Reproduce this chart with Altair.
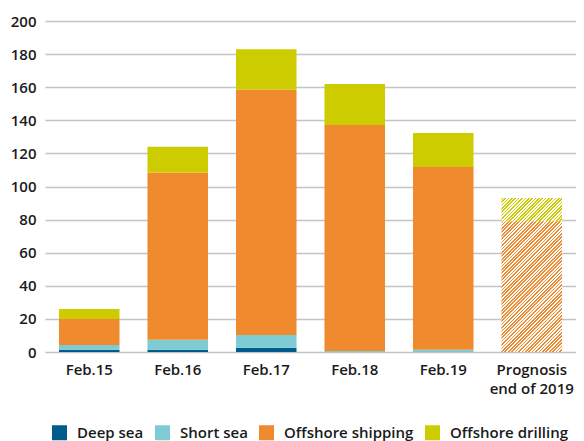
import altair as alt
import pandas as pd

periods = ["Feb.15", "Feb.16", "Feb.17", "Feb.18", "Feb.19", "Prognosis\nend of 2019"]
series = ["Deep sea", "Short sea", "Offshore shipping", "Offshore drilling"]
colors = ["#005C8A", "#7FCBD3", "#F08A2F", "#CDCC00"]

deep_sea = [1.4, 1.4, 2.6, 0.0, 0.0, 0.0]
short_sea = [2.8, 6.0, 7.7, 0.6, 1.4, 0.0]
offshore_shipping = [15.8, 101.0, 148.2, 136.6, 110.4, 79.0]
offshore_drilling = [6.0, 15.6, 24.5, 24.8, 20.5, 14.0]

y_ticks = list(range(0, 201, 20))

PROG = periods[-1]

rows = []
for i, p in enumerate(periods):
    for j, (s, vals) in enumerate(zip(series, [deep_sea, short_sea, offshore_shipping, offshore_drilling])):
        rows.append({"period": p, "series": s, "order": j, "value": vals[i]})
df = pd.DataFrame(rows)

W, H = 531, 331
FONT = "Open Sans"


def stripes(color, w, h, period=3.4):
    n = max(1, int(round((w + h) / period)))
    s = (w + h) / (w * w + h * h)
    stops = []
    for i in range(n):
        a, m, b = i / n, (i + 0.5) / n, (i + 1) / n
        stops += [
            alt.GradientStop(offset=a, color=color),
            alt.GradientStop(offset=m, color=color),
            alt.GradientStop(offset=m, color="#ffffff"),
            alt.GradientStop(offset=b, color="#ffffff"),
        ]
    return alt.LinearGradient(gradient="linear", x1=0, y1=0, x2=s * w, y2=s * h, stops=stops)


bar_w = W / len(periods) * 0.684
px_per_unit = H / 200

x_enc = alt.X(
    "period:N",
    sort=periods,
    title=None,
    scale=alt.Scale(domain=periods, paddingInner=0.316, paddingOuter=0.158),
    axis=alt.Axis(
        labelAngle=0,
        labelExpr="split(datum.label, '\\n')",
        labelLineHeight=19,
        labelPadding=10,
        labelBaseline="top",
        labelFont=FONT,
        labelFontSize=15,
        labelFontWeight=600,
        labelColor="#1a1a1a",
        domain=False,
        ticks=False,
        grid=False,
    ),
)
y_scale = alt.Scale(domain=[0, 200], nice=False)
y_enc = alt.Y(
    "y0:Q",
    title=None,
    scale=y_scale,
    axis=alt.Axis(
        values=y_ticks,
        grid=True,
        gridColor="#c4c4c4",
        gridWidth=1.5,
        domain=False,
        ticks=False,
        labelPadding=9,
        labelFont=FONT,
        labelFontSize=15,
        labelFontWeight=600,
        labelColor="#1a1a1a",
    ),
)

base = alt.Chart(df).transform_stack(
    stack="value", groupby=["period"], sort=[alt.SortField("order")], as_=["y0", "y1"]
)

solid = base.transform_filter(alt.datum.period != PROG).mark_bar().encode(
    x=x_enc,
    y=y_enc,
    y2="y1:Q",
    color=alt.Color(
        "series:N",
        scale=alt.Scale(domain=series, range=colors),
        legend=alt.Legend(
            title=None,
            orient="none",
            legendX=7,
            legendY=404,
            direction="horizontal",
            symbolType="square",
            symbolSize=225,
            symbolStrokeWidth=0,
            symbolOpacity=1,
            labelFont=FONT,
            labelFontSize=15,
            labelFontWeight=600,
            labelColor="#1a1a1a",
            labelOffset=10,
            columnPadding=11,
        ),
    ),
)

prog_ship = offshore_shipping[-1]
prog_drill = offshore_drilling[-1]

hatch_ship = base.transform_filter(
    (alt.datum.period == PROG) & (alt.datum.series == "Offshore shipping")
).mark_bar(fill=stripes(colors[2], bar_w, prog_ship * px_per_unit), strokeWidth=0).encode(
    x=x_enc, y=y_enc, y2="y1:Q"
)
hatch_drill = base.transform_filter(
    (alt.datum.period == PROG) & (alt.datum.series == "Offshore drilling")
).mark_bar(fill=stripes(colors[3], bar_w, prog_drill * px_per_unit), strokeWidth=0).encode(
    x=x_enc, y=y_enc, y2="y1:Q"
)

chart = (
    alt.layer(solid, hatch_ship, hatch_drill)
    .properties(
        width=W,
        height=H,
        autosize="none",
        padding={"left": 37, "top": 13, "right": 0, "bottom": 97},
        background="white",
    )
    .configure_view(stroke=None)
)

chart.save("out.html", embed_options={"renderer": "svg", "actions": False})
